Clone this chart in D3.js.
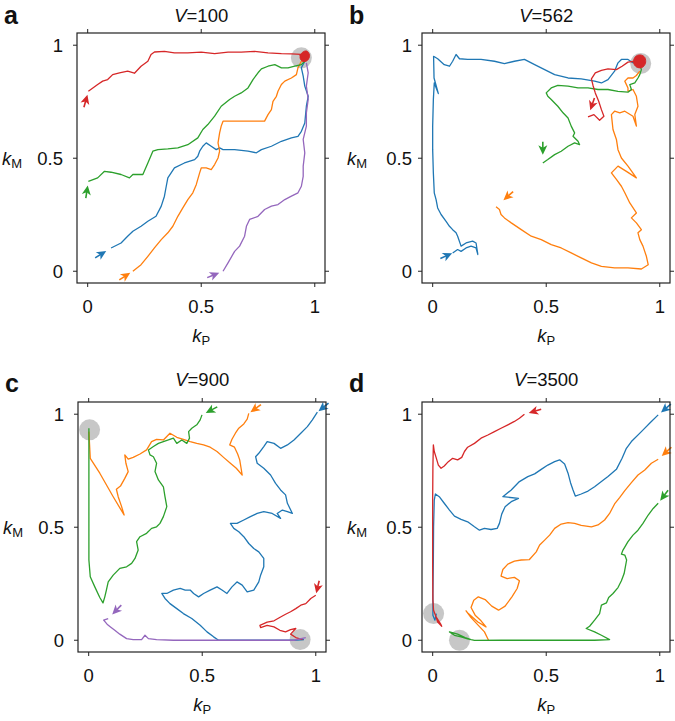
<!DOCTYPE html>
<html>
<head>
<meta charset="utf-8">
<script src="https://cdn.jsdelivr.net/npm/d3@7/dist/d3.min.js"></script>
<style>
  body { margin: 0; background: #fff; }
  text { font-family: "Liberation Sans", Arial, sans-serif; fill: #111; }
</style>
</head>
<body>
<svg id="fig" width="675" height="721"></svg>
<script>
// tab10 colours
let colors = { blue: "#1f77b4", orange: "#ff7f0e", green: "#2ca02c", red: "#d62728", purple: "#9467bd" };

let ticks = [0, 0.5, 1];
let tickLabels = ["0", "0.5", "1"];
let titles = ["100", "562", "900", "3500"];
let letters = ["a", "b", "c", "d"];

// ---- panel a (V=100) : trajectories [kP, kM]
let aBlue = [[0.103,0.103],[0.147,0.125],[0.176,0.155],[0.199,0.177],[0.235,0.199],[0.265,0.221],[0.301,0.243],[0.324,0.288],[0.338,0.332],[0.346,0.376],[0.353,0.413],[0.382,0.457],[0.426,0.479],[0.471,0.494],[0.485,0.509],[0.493,0.531],[0.507,0.553],[0.522,0.568],[0.544,0.553],[0.566,0.538],[0.581,0.546],[0.596,0.538],[0.647,0.538],[0.706,0.531],[0.743,0.524],[0.765,0.538],[0.809,0.553],[0.853,0.575],[0.897,0.590],[0.926,0.597],[0.941,0.619],[0.956,0.656],[0.963,0.730],[0.971,0.774],[0.956,0.819],[0.949,0.863],[0.941,0.900],[0.956,0.929]];
let aOrange = [[0.199,0.000],[0.235,0.029],[0.265,0.066],[0.294,0.103],[0.324,0.140],[0.353,0.170],[0.375,0.199],[0.397,0.243],[0.419,0.280],[0.441,0.317],[0.463,0.347],[0.478,0.383],[0.493,0.435],[0.500,0.457],[0.522,0.457],[0.544,0.450],[0.559,0.472],[0.574,0.501],[0.581,0.531],[0.574,0.568],[0.581,0.612],[0.588,0.642],[0.596,0.664],[0.647,0.664],[0.706,0.664],[0.750,0.664],[0.779,0.664],[0.794,0.693],[0.809,0.715],[0.816,0.752],[0.831,0.774],[0.838,0.796],[0.853,0.826],[0.868,0.841],[0.897,0.855],[0.919,0.870],[0.926,0.900],[0.941,0.929],[0.959,0.944]];
let aGreen = [[0.003,0.398],[0.044,0.413],[0.074,0.442],[0.103,0.438],[0.147,0.428],[0.184,0.413],[0.199,0.428],[0.243,0.428],[0.265,0.479],[0.287,0.531],[0.309,0.538],[0.353,0.541],[0.397,0.546],[0.441,0.560],[0.485,0.590],[0.507,0.627],[0.529,0.649],[0.559,0.686],[0.588,0.730],[0.625,0.760],[0.647,0.774],[0.676,0.789],[0.706,0.811],[0.728,0.848],[0.750,0.878],[0.765,0.895],[0.794,0.907],[0.824,0.914],[0.853,0.900],[0.882,0.900],[0.912,0.907],[0.941,0.914],[0.963,0.937]];
let aRed = [[0.003,0.796],[0.044,0.826],[0.066,0.841],[0.088,0.848],[0.110,0.870],[0.140,0.878],[0.176,0.885],[0.206,0.876],[0.235,0.907],[0.265,0.929],[0.279,0.959],[0.294,0.970],[0.338,0.973],[0.382,0.966],[0.441,0.966],[0.500,0.969],[0.559,0.963],[0.618,0.969],[0.676,0.969],[0.735,0.973],[0.794,0.966],[0.853,0.963],[0.897,0.962],[0.941,0.959],[0.963,0.951],[0.950,0.935],[0.935,0.955],[0.955,0.965],[0.970,0.945],[0.945,0.940],[0.960,0.958]];
let aPurple = [[0.596,0.000],[0.618,0.037],[0.647,0.088],[0.669,0.111],[0.691,0.155],[0.699,0.199],[0.713,0.229],[0.750,0.243],[0.779,0.273],[0.809,0.288],[0.838,0.295],[0.868,0.317],[0.897,0.332],[0.926,0.347],[0.941,0.376],[0.949,0.420],[0.949,0.465],[0.956,0.524],[0.949,0.583],[0.963,0.642],[0.963,0.701],[0.971,0.760],[0.963,0.819],[0.971,0.878],[0.963,0.922]];
let aArrows = [[0.063,0.078],[0.169,-0.019],[-0.003,0.358],[-0.007,0.760],[0.559,-0.015]];
let aFixed = [[0.941,0.944]];
let aKnot = [[0.935,0.945],[0.945,0.968],[0.965,0.974],[0.977,0.955],[0.968,0.933],[0.948,0.928]];

// ---- panel b (V=562)
let bBlue = [[0.088,0.081],[0.110,0.096],[0.125,0.088],[0.147,0.103],[0.169,0.111],[0.191,0.103],[0.199,0.074],[0.191,0.125],[0.176,0.133],[0.147,0.125],[0.125,0.111],[0.110,0.155],[0.103,0.170],[0.088,0.184],[0.074,0.199],[0.059,0.221],[0.037,0.251],[0.022,0.280],[0.015,0.317],[0.007,0.347],[0.003,0.435],[0.000,0.538],[0.000,0.642],[0.003,0.760],[0.007,0.833],[0.025,0.786],[0.006,0.855],[0.004,0.951],[0.022,0.940],[0.051,0.914],[0.074,0.907],[0.088,0.929],[0.103,0.959],[0.118,0.940],[0.154,0.937],[0.213,0.937],[0.272,0.929],[0.316,0.919],[0.360,0.929],[0.404,0.937],[0.449,0.914],[0.493,0.892],[0.537,0.870],[0.596,0.855],[0.654,0.851],[0.713,0.841],[0.743,0.833],[0.772,0.848],[0.801,0.885],[0.816,0.922],[0.831,0.937],[0.860,0.937],[0.882,0.922],[0.897,0.929]];
let bOrange = [[0.279,0.285],[0.294,0.273],[0.301,0.251],[0.316,0.236],[0.346,0.214],[0.390,0.184],[0.434,0.155],[0.478,0.140],[0.522,0.118],[0.566,0.103],[0.610,0.081],[0.654,0.059],[0.699,0.037],[0.743,0.022],[0.801,0.015],[0.860,0.015],[0.919,0.010],[0.949,0.029],[0.941,0.066],[0.926,0.111],[0.912,0.140],[0.904,0.170],[0.919,0.184],[0.897,0.214],[0.875,0.236],[0.897,0.258],[0.868,0.302],[0.846,0.347],[0.831,0.376],[0.809,0.406],[0.787,0.435],[0.816,0.465],[0.853,0.442],[0.897,0.413],[0.860,0.465],[0.831,0.501],[0.816,0.538],[0.809,0.583],[0.794,0.627],[0.787,0.693],[0.801,0.708],[0.824,0.701],[0.846,0.708],[0.882,0.686],[0.897,0.642],[0.890,0.693],[0.904,0.730],[0.897,0.774],[0.882,0.804],[0.860,0.796],[0.860,0.811],[0.846,0.841],[0.860,0.855],[0.882,0.855],[0.897,0.866],[0.912,0.885]];
let bGreen = [[0.485,0.479],[0.507,0.494],[0.537,0.516],[0.566,0.531],[0.596,0.553],[0.625,0.568],[0.647,0.560],[0.640,0.575],[0.618,0.597],[0.625,0.612],[0.610,0.642],[0.596,0.678],[0.574,0.701],[0.551,0.730],[0.522,0.760],[0.507,0.774],[0.500,0.789],[0.522,0.811],[0.551,0.822],[0.596,0.819],[0.640,0.811],[0.684,0.811],[0.728,0.804],[0.772,0.804],[0.816,0.796],[0.860,0.792],[0.875,0.804],[0.868,0.826],[0.890,0.833],[0.904,0.855],[0.912,0.870],[0.919,0.892],[0.912,0.914]];
let bRed = [[0.684,0.683],[0.710,0.693],[0.735,0.668],[0.754,0.686],[0.743,0.715],[0.731,0.752],[0.716,0.789],[0.706,0.822],[0.699,0.851],[0.716,0.878],[0.743,0.889],[0.772,0.895],[0.809,0.892],[0.834,0.907],[0.860,0.925],[0.890,0.929],[0.912,0.922]];
let bArrows = [[0.066,0.071],[0.328,0.329],[0.485,0.538],[0.701,0.733]];
let bFixed = [[0.916,0.919]];
let bKnot = [[0.884,0.925],[0.893,0.950],[0.915,0.957],[0.934,0.946],[0.937,0.920],[0.921,0.901],[0.897,0.904]];

// ---- panel c (V=900)
let cBlue = [[1.007,1.009],[0.985,0.975],[0.963,0.945],[0.934,0.916],[0.904,0.886],[0.875,0.864],[0.845,0.849],[0.816,0.871],[0.786,0.879],[0.771,0.857],[0.749,0.827],[0.735,0.812],[0.742,0.783],[0.771,0.761],[0.801,0.731],[0.823,0.694],[0.845,0.665],[0.867,0.643],[0.875,0.606],[0.897,0.561],[0.875,0.569],[0.853,0.576],[0.830,0.561],[0.845,0.539],[0.808,0.561],[0.771,0.569],[0.742,0.561],[0.712,0.547],[0.683,0.532],[0.653,0.517],[0.624,0.517],[0.639,0.495],[0.661,0.480],[0.683,0.458],[0.705,0.428],[0.727,0.406],[0.749,0.391],[0.771,0.362],[0.771,0.325],[0.757,0.288],[0.749,0.258],[0.727,0.222],[0.698,0.214],[0.676,0.244],[0.653,0.258],[0.631,0.236],[0.609,0.207],[0.587,0.222],[0.565,0.236],[0.535,0.222],[0.506,0.207],[0.484,0.192],[0.462,0.207],[0.447,0.222],[0.425,0.222],[0.403,0.229],[0.373,0.222],[0.344,0.207],[0.322,0.207],[0.336,0.185],[0.358,0.162],[0.388,0.140],[0.417,0.118],[0.454,0.096],[0.491,0.066],[0.521,0.037],[0.550,0.015],[0.572,0.000],[0.639,0.000],[0.727,0.000],[0.816,0.000],[0.904,0.000],[0.948,0.003]];
let cOrange = [[0.705,1.004],[0.698,0.978],[0.683,0.957],[0.661,0.938],[0.646,0.916],[0.631,0.889],[0.621,0.864],[0.642,0.854],[0.656,0.824],[0.665,0.798],[0.676,0.731],[0.650,0.761],[0.624,0.783],[0.594,0.809],[0.565,0.835],[0.535,0.854],[0.506,0.864],[0.476,0.871],[0.447,0.879],[0.417,0.889],[0.388,0.898],[0.358,0.916],[0.329,0.886],[0.299,0.889],[0.277,0.879],[0.255,0.842],[0.226,0.824],[0.196,0.809],[0.174,0.801],[0.159,0.820],[0.164,0.783],[0.174,0.746],[0.159,0.716],[0.140,0.682],[0.122,0.668],[0.130,0.635],[0.145,0.591],[0.156,0.554],[0.108,0.635],[0.049,0.739],[0.007,0.805],[0.001,0.923]];
let cGreen = [[0.499,0.997],[0.491,0.975],[0.476,0.953],[0.454,0.938],[0.440,0.923],[0.444,0.894],[0.432,0.871],[0.410,0.886],[0.388,0.871],[0.373,0.894],[0.351,0.886],[0.329,0.879],[0.307,0.871],[0.285,0.857],[0.263,0.842],[0.270,0.820],[0.285,0.812],[0.299,0.783],[0.292,0.746],[0.307,0.709],[0.329,0.679],[0.336,0.635],[0.344,0.591],[0.329,0.547],[0.314,0.517],[0.299,0.502],[0.277,0.495],[0.255,0.473],[0.226,0.458],[0.211,0.436],[0.218,0.399],[0.204,0.362],[0.189,0.340],[0.167,0.325],[0.137,0.318],[0.108,0.288],[0.086,0.258],[0.078,0.222],[0.071,0.192],[0.063,0.165],[0.049,0.189],[0.027,0.236],[0.007,0.281],[0.001,0.355],[0.001,0.576],[0.001,0.798],[0.001,0.938]];
let cRed = [[1.000,0.199],[0.978,0.185],[0.956,0.162],[0.934,0.155],[0.912,0.140],[0.889,0.126],[0.867,0.115],[0.845,0.103],[0.816,0.086],[0.786,0.080],[0.754,0.066],[0.757,0.056],[0.786,0.066],[0.816,0.059],[0.842,0.044],[0.867,0.037],[0.889,0.047],[0.912,0.052],[0.889,0.027],[0.912,0.012],[0.941,0.003]];
let cPurple = [[0.086,0.096],[0.066,0.089],[0.081,0.071],[0.096,0.059],[0.115,0.044],[0.137,0.027],[0.167,0.007],[0.196,0.003],[0.233,0.003],[0.248,0.022],[0.263,0.007],[0.299,0.003],[0.373,0.000],[0.462,0.000],[0.550,0.000],[0.639,0.000],[0.727,0.000],[0.816,0.000],[0.904,0.000],[0.956,0.012]];
let cArrows = [[1.029,1.027],[0.730,1.022],[0.535,1.016],[1.007,0.229],[0.119,0.130]];
let cFixed = [[0.004,0.931],[0.931,0.003]];

// ---- panel d (V=3500)
let dBlue = [[0.993,0.997],[0.963,0.968],[0.919,0.923],[0.875,0.879],[0.853,0.849],[0.834,0.805],[0.809,0.756],[0.772,0.724],[0.743,0.702],[0.713,0.679],[0.684,0.660],[0.654,0.647],[0.628,0.638],[0.618,0.665],[0.607,0.697],[0.596,0.739],[0.581,0.780],[0.559,0.798],[0.537,0.790],[0.507,0.775],[0.478,0.756],[0.449,0.736],[0.419,0.724],[0.382,0.702],[0.346,0.665],[0.309,0.635],[0.378,0.628],[0.346,0.613],[0.319,0.591],[0.304,0.558],[0.294,0.517],[0.284,0.495],[0.257,0.490],[0.228,0.495],[0.206,0.487],[0.184,0.502],[0.154,0.524],[0.125,0.535],[0.096,0.549],[0.074,0.576],[0.051,0.606],[0.029,0.635],[0.012,0.647],[0.007,0.620],[0.004,0.502],[0.003,0.355],[0.001,0.207],[0.001,0.111],[0.010,0.089],[0.016,0.118]];
let dOrange = [[0.993,0.801],[0.963,0.783],[0.934,0.753],[0.904,0.731],[0.875,0.697],[0.846,0.662],[0.824,0.632],[0.801,0.603],[0.779,0.561],[0.757,0.532],[0.728,0.510],[0.699,0.502],[0.654,0.508],[0.625,0.517],[0.596,0.520],[0.566,0.514],[0.537,0.495],[0.515,0.465],[0.493,0.443],[0.471,0.421],[0.456,0.391],[0.426,0.357],[0.390,0.355],[0.360,0.350],[0.331,0.337],[0.309,0.313],[0.301,0.284],[0.328,0.273],[0.360,0.278],[0.382,0.263],[0.372,0.229],[0.349,0.192],[0.319,0.151],[0.290,0.133],[0.260,0.151],[0.231,0.180],[0.201,0.192],[0.181,0.177],[0.169,0.145],[0.187,0.111],[0.213,0.086],[0.235,0.059],[0.199,0.081],[0.157,0.118],[0.147,0.130],[0.169,0.100],[0.201,0.066],[0.228,0.037],[0.240,0.012],[0.246,0.000]];
let dGreen = [[0.993,0.606],[0.971,0.583],[0.949,0.554],[0.926,0.517],[0.904,0.487],[0.882,0.465],[0.860,0.436],[0.838,0.399],[0.831,0.381],[0.846,0.377],[0.854,0.355],[0.843,0.295],[0.831,0.263],[0.816,0.233],[0.794,0.207],[0.775,0.189],[0.765,0.165],[0.743,0.155],[0.735,0.118],[0.713,0.089],[0.691,0.062],[0.676,0.052],[0.713,0.037],[0.743,0.022],[0.779,0.003],[0.713,0.000],[0.596,0.000],[0.449,0.000],[0.301,0.000],[0.184,-0.001],[0.154,0.006],[0.125,0.015],[0.096,0.022],[0.074,0.037],[0.110,0.027],[0.143,0.012],[0.169,0.003]];
let dRed = [[0.404,1.000],[0.382,0.982],[0.360,0.968],[0.331,0.953],[0.301,0.938],[0.272,0.923],[0.243,0.908],[0.213,0.894],[0.184,0.871],[0.154,0.854],[0.140,0.835],[0.128,0.809],[0.110,0.798],[0.088,0.805],[0.069,0.790],[0.051,0.771],[0.037,0.761],[0.025,0.775],[0.015,0.809],[0.007,0.835],[0.003,0.864],[0.001,0.768],[0.000,0.620],[0.000,0.473],[0.000,0.325],[0.001,0.177],[0.004,0.133],[0.015,0.103],[0.034,0.074],[0.040,0.062],[0.022,0.081],[0.015,0.103]];
let dArrows = [[1.022,1.022],[1.025,0.830],[1.015,0.635],[0.444,1.012]];
let dFixed = [[0.004,0.118],[0.118,0.000]];

let panels = [
  { x0: 77, y0: 33, series: [[aBlue, "blue"], [aOrange, "orange"], [aGreen, "green"], [aRed, "red"], [aPurple, "purple"]], arrows: aArrows, fixed: aFixed, knot: aKnot, lab: 14 },
  { x0: 422, y0: 33, series: [[bBlue, "blue"], [bOrange, "orange"], [bGreen, "green"], [bRed, "red"]], arrows: bArrows, fixed: bFixed, knot: bKnot, lab: 10 },
  { x0: 78, y0: 402, series: [[cBlue, "blue"], [cOrange, "orange"], [cGreen, "green"], [cRed, "red"], [cPurple, "purple"]], arrows: cArrows, fixed: cFixed, knot: null, lab: 14 },
  { x0: 422, y0: 402, series: [[dBlue, "blue"], [dOrange, "orange"], [dGreen, "green"], [dRed, "red"]], arrows: dArrows, fixed: dFixed, knot: null, lab: 10 }
];

let w = 248, h = 250;
let svg = d3.select("#fig");

panels.forEach((p, i) => {
  let x = d3.scaleLinear().domain([-0.047, 1.045]).range([p.x0, p.x0 + w]);
  let y = d3.scaleLinear().domain([-0.052, 1.054]).range([p.y0 + h, p.y0]);
  let g = svg.append("g");

  // grey fixed points under the lines
  g.selectAll("circle.fixed")
    .data(p.fixed)
    .enter()
    .append("circle")
    .attr("cx", d => x(d[0]))
    .attr("cy", d => y(d[1]))
    .attr("r", 10.5)
    .attr("fill", "#bdbdbd")
    .attr("fill-opacity", 0.85);

  let line = d3.line().x(d => x(d[0])).y(d => y(d[1]));

  p.series.forEach(([pts, c], j) => {
    g.append("path")
      .attr("d", line(pts))
      .attr("fill", "none")
      .attr("stroke", colors[c])
      .attr("stroke-width", 1.3)
      .attr("stroke-linejoin", "round");

    // arrow pointing to the start of the trajectory
    let a = p.arrows[j];
    let ax = x(a[0]), ay = y(a[1]);
    let ang = Math.atan2(y(pts[0][1]) - ay, x(pts[0][0]) - ax) * 180 / Math.PI;
    let ag = g.append("g").attr("transform", `translate(${ax},${ay}) rotate(${ang})`);
    ag.append("line")
      .attr("x1", -8).attr("y1", 0).attr("x2", -1).attr("y2", 0)
      .attr("stroke", colors[c]).attr("stroke-width", 1.6);
    ag.append("path")
      .attr("d", "M5,0 L-4.5,-4.5 L-2,0 L-4.5,4.5 Z")
      .attr("fill", colors[c]);
  });

  // dense red tangle where the red walk settles
  if (p.knot) {
    g.append("path")
      .attr("d", line.curve(d3.curveCardinalClosed)(p.knot))
      .attr("fill", colors.red)
      .attr("stroke", colors.red)
      .attr("stroke-width", 1);
    line.curve(d3.curveLinear);
  }

  // frame + outward ticks on all sides
  g.append("rect")
    .attr("x", p.x0).attr("y", p.y0).attr("width", w).attr("height", h)
    .attr("fill", "none").attr("stroke", "#222").attr("stroke-width", 1.2);

  let tk = g.append("g").attr("stroke", "#222").attr("stroke-width", 1);
  ticks.forEach(t => {
    tk.append("line").attr("x1", x(t)).attr("x2", x(t)).attr("y1", p.y0 + h).attr("y2", p.y0 + h + 4);
    tk.append("line").attr("x1", x(t)).attr("x2", x(t)).attr("y1", p.y0).attr("y2", p.y0 - 4);
    tk.append("line").attr("y1", y(t)).attr("y2", y(t)).attr("x1", p.x0).attr("x2", p.x0 - 4);
    tk.append("line").attr("y1", y(t)).attr("y2", y(t)).attr("x1", p.x0 + w).attr("x2", p.x0 + w + 4);
  });

  g.selectAll("text.xt")
    .data(ticks)
    .enter()
    .append("text")
    .attr("class", "xt")
    .attr("x", d => x(d))
    .attr("y", p.y0 + h + 30)
    .attr("text-anchor", "middle")
    .style("font-size", "18.5px")
    .text((d, k) => tickLabels[k]);

  g.selectAll("text.yt")
    .data(ticks)
    .enter()
    .append("text")
    .attr("class", "yt")
    .attr("x", p.x0 - p.lab)
    .attr("y", d => y(d) + 6.5)
    .attr("text-anchor", "end")
    .style("font-size", "18.5px")
    .text((d, k) => tickLabels[k]);

  // axis labels
  let xl = g.append("text")
    .attr("x", x(0.5) - 9)
    .attr("y", p.y0 + h + 59)
    .style("font-size", "18.5px");
  xl.append("tspan").style("font-style", "italic").text("k");
  xl.append("tspan").attr("dy", 3).style("font-size", "13px").text("P");

  let yl = g.append("text")
    .attr("x", p.x0 - 75)
    .attr("y", y(0.5) + 7)
    .style("font-size", "18.5px");
  yl.append("tspan").style("font-style", "italic").text("k");
  yl.append("tspan").attr("dy", 3).style("font-size", "13px").text("M");

  // title and panel letter
  let tt = g.append("text")
    .attr("x", x(0.5))
    .attr("y", i < 2 ? 21.5 : 386)
    .attr("text-anchor", "middle")
    .style("font-size", "18.5px");
  tt.append("tspan").style("font-style", "italic").text("V");
  tt.append("tspan").text("=" + titles[i]);

  g.append("text")
    .attr("x", p.x0 - 73)
    .attr("y", i < 2 ? 24 : 392)
    .style("font-size", "25px")
    .style("font-weight", "bold")
    .text(letters[i]);
});
</script>
</body>
</html>
